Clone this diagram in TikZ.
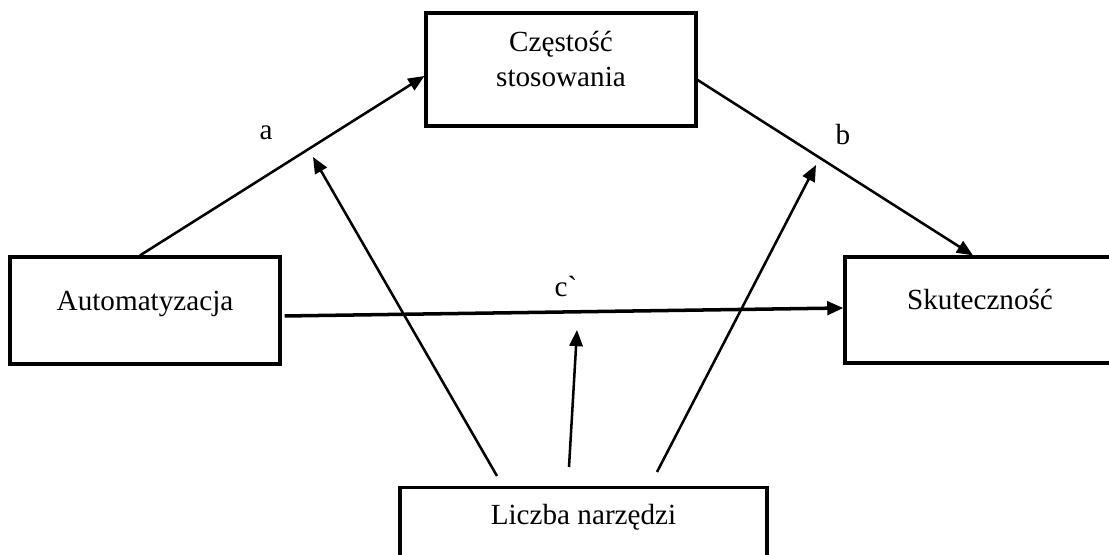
\documentclass[tikz,border=0pt]{standalone}
\usepackage{fontspec}
\setmainfont{Liberation Serif}[Ligatures=TeXOff]
\usetikzlibrary{%
  arrows.meta%
}
\tikzset{
  varbox/.style={draw=black,line width=0.9pt,minimum width=2.7cm,inner sep=0pt,
    text height=0.2cm,text depth=0.2cm},
  effect/.style={line width=0.72pt,-{Triangle[length=4.6pt,width=3.8pt]}}
}

\begin{document}
\begin{tikzpicture}[font=\fontsize{8.3}{9.96}\selectfont]
      \clip (0,0) rectangle (11.09,5.55);
      \node [varbox,minimum height=1.13cm,text height=0.5cm,text depth=0.15cm] (czest) at (5.61,4.855)
        {\begin{tabular}[b]{@{}c@{}}Częstość\\stosowania\end{tabular}};
      \node [varbox,minimum height=1.07cm] (auto) at (1.45,2.445) {Automatyzacja};
      \node [varbox,minimum height=1.06cm] (skut) at (9.80,2.45) {Skuteczność};
      \node [varbox,minimum width=3.67cm,anchor=north,text height=0.37cm,text depth=0.8cm]
        (liczba) at (5.835,0.69) {Liczba narzędzi};
      % paths a, b, c`
      \draw [effect] ([xshift=-0.05cm]auto.north) -- ([yshift=-0.065cm]czest.west);
      \draw [effect] ([yshift=-0.105cm]czest.east) -- ([xshift=-0.07cm]skut.north);
      \draw [effect,line width=1pt] ([xshift=0.03cm,yshift=-0.055cm]auto.east)
        -- ([yshift=0.02cm]skut.west);
      \node (la) at (2.66,4.22) {a};
      \node (lb) at (8.43,4.20) {b};
      \node (lc) at (5.66,2.68) {c`};
      % moderator
      \coordinate (onA) at (3.13,3.98);
      \coordinate (onC) at (5.77,2.25);
      \coordinate (onB) at (8.16,3.90);
      \draw [effect] ([shift={(-0.865,0.1)}]liczba.north) -- (onA);
      \draw [effect] ([shift={(-0.145,0.19)}]liczba.north) -- (onC);
      \draw [effect] ([shift={(0.735,0.14)}]liczba.north) -- (onB);
    \end{tikzpicture}
\end{document}
